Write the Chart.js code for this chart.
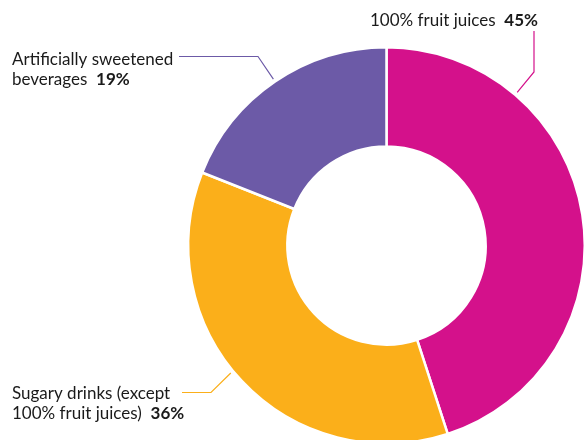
<!DOCTYPE html>
<html>
<head>
<meta charset="utf-8">
<script src="https://cdn.jsdelivr.net/npm/chart.js@4.4.1/dist/chart.umd.min.js"></script>
<style>
  html, body { margin: 0; padding: 0; background: #fff; overflow: hidden; width: 586px; height: 440px; }
  canvas { display: block; }
</style>
</head>
<body>
<canvas id="c" width="586" height="460"></canvas>
<script>
// ---- data ----
const categories = ["100% fruit juices", "Sugary drinks (except 100% fruit juices)", "Artificially sweetened beverages"];
const values = [45, 36, 19];
const labelLines = [["100% fruit juices"], ["Sugary drinks (except", "100% fruit juices)"], ["Artificially sweetened", "beverages"]];
const percentLabels = ["45%", "36%", "19%"];

// ---- styles / layout ----
const colors = ["#D4118B", "#FBAF1A", "#6C5AA7"];
const labelLayout = [
  { align: "right", x: 538, y: 26, lineH: 20, anchor: 0.25, path: [[534, 31], [534, 72]] },
  { align: "left", x: 12, y: 399, lineH: 20, anchor: 0.53, path: [[182, 392.5], [211, 392.5]] },
  { align: "left", x: 12, y: 65, lineH: 20, anchor: 0.5, path: [[179, 56.5], [258, 56.5]] }
];
const fontFamily = "Lato, 'Open Sans', sans-serif";
const fontSize = 17;

const leaderPlugin = {
  id: "leaders",
  afterDatasetsDraw(chart) {
    const ctx = chart.ctx;
    const meta = chart.getDatasetMeta(0);
    meta.data.forEach((arc, i) => {
      const L = labelLayout[i];
      const p = arc.getProps(["x", "y", "startAngle", "endAngle", "outerRadius"], true);
      const a = p.startAngle + (p.endAngle - p.startAngle) * L.anchor;
      const r = p.outerRadius + 3;
      const ex = p.x + Math.cos(a) * r;
      const ey = p.y + Math.sin(a) * r;
      ctx.save();
      ctx.strokeStyle = colors[i];
      ctx.lineWidth = 1.2;
      ctx.beginPath();
      ctx.moveTo(L.path[0][0], L.path[0][1]);
      for (let k = 1; k < L.path.length; k++) ctx.lineTo(L.path[k][0], L.path[k][1]);
      ctx.lineTo(ex, ey);
      ctx.stroke();

      ctx.fillStyle = "#1a1a1a";
      ctx.textBaseline = "alphabetic";
      const reg = `${fontSize}px ${fontFamily}`;
      const bold = `bold ${fontSize}px ${fontFamily}`;
      const lines = labelLines[i];
      lines.forEach((txt, j) => {
        const y = L.y + j * L.lineH;
        const isLast = j === lines.length - 1;
        ctx.font = reg;
        const wReg = ctx.measureText(txt + (isLast ? "  " : "")).width;
        ctx.font = bold;
        const wBold = isLast ? ctx.measureText(percentLabels[i]).width : 0;
        const total = wReg + wBold;
        let x0 = L.align === "right" ? L.x - total : L.x;
        ctx.textAlign = "left";
        ctx.font = reg;
        ctx.fillText(txt, x0, y);
        if (isLast) {
          ctx.font = bold;
          ctx.fillText(percentLabels[i], x0 + wReg, y);
        }
      });
      ctx.restore();
    });
  }
};

new Chart(document.getElementById("c"), {
  type: "doughnut",
  data: {
    labels: categories,
    datasets: [{
      data: values,
      backgroundColor: colors,
      borderColor: "#ffffff",
      borderWidth: 2.5,
      hoverOffset: 0
    }]
  },
  options: {
    responsive: false,
    animation: false,
    cutout: "50%",
    layout: { padding: { top: 46, left: 187, right: 0, bottom: 15 } },
    plugins: { legend: { display: false }, tooltip: { enabled: false } },
    events: []
  },
  plugins: [leaderPlugin]
});
</script>
</body>
</html>
